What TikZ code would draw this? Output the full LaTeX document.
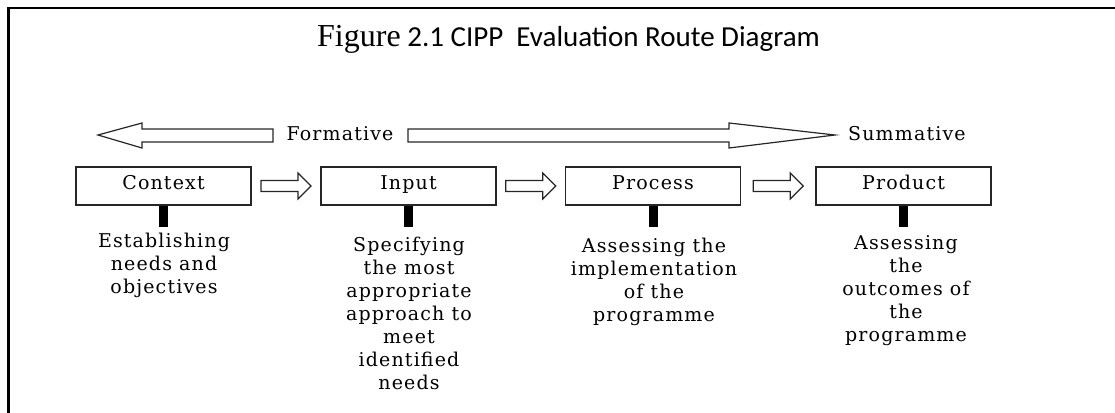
\documentclass[tikz,border=0pt]{standalone}
\usepackage{fontspec}
\setmainfont{Carlito}
\newfontfamily\figfont{Liberation Serif}
\newfontfamily\diagfont[LetterSpace=6]{DejaVu Serif}
\usepackage{tikz}
\usetikzlibrary{calc}

\tikzset{
    stage/.style={draw=black!85, line width=1.2pt, minimum width=175pt, minimum height=38pt,
        inner sep=0pt, text height=12pt, text depth=6pt, font=\diagfont\fontsize{19}{23}\selectfont},
    desc/.style={anchor=north, align=center, inner sep=0pt, font=\diagfont\fontsize{19}{23}\selectfont},
    stem/.style={line width=9pt, black},
    flowarrow/.pic={
        \draw[black!85, line width=1.2pt] (-25,-5.5) -- (12,-5.5) -- (12,-13) -- (25,0)
            -- (12,13) -- (12,5.5) -- (-25,5.5) -- cycle;
    }
}

\begin{document}
\begin{tikzpicture}[x=1pt, y=-1pt]
        \useasboundingbox (0,0) rectangle (1115,412);

        % frame
        \draw[line width=2.5pt] (8.7,430) -- (8.7,8) -- (1125,8);

        \node[anchor=base west, inner sep=0pt, font=\fontsize{29}{33}\selectfont] (title) at (317,47)
            {{\figfont\fontsize{32}{33}\selectfont Figure} 2.1 CIPP\ \ Evaluation Route Diagram};

        % formative / summative
        \draw[black!85, line width=1.2pt] (98,135) -- (142,123) -- (142,129) -- (273,129)
            -- (273,142) -- (142,142) -- (142,148) -- cycle;
        \draw[black!85, line width=1.2pt] (408,129) -- (729,129) -- (729,123) -- (835,135)
            -- (729,148) -- (729,142) -- (408,142) -- cycle;
        \node[font=\diagfont\fontsize{19}{23}\selectfont] (form) at (340,134) {Formative};
        \node[anchor=west, inner sep=0pt, font=\diagfont\fontsize{19}{23}\selectfont] (summ) at (848,134) {Summative};

        \node[stage] (ctx) at (163.5,186) {Context};
        \node[stage] (inp) at (408.5,186) {Input};
        \node[stage] (proc) at (653,186) {Process};
        \node[stage] (prod) at (903.5,186) {Product};

        \pic at ($(ctx.east)!.5!(inp.west)$) {flowarrow};
        \pic at ($(inp.east)!.5!(proc.west)$) {flowarrow};
        \pic at ($(proc.east)!.5!(prod.west)$) {flowarrow};

        \draw[stem] (ctx.south) -- ++(0,21);
        \draw[stem] (inp.south) -- ++(0,21);
        \draw[stem] (proc.south) -- ++(0,21);
        \draw[stem] (prod.south) -- ++(0,21);

        \node[desc] (ctxd) at (164,233) {Establishing\\needs and\\objectives};
        \node[desc] (inpd) at (409,237) {Specifying\\the most\\appropriate\\approach to\\meet\\identified\\needs};
        \node[desc] (procd) at (654,238) {Assessing the\\implementation\\of the\\programme};
        \node[desc] (prodd) at (906,235) {Assessing\\the\\outcomes of\\the\\programme};
    \end{tikzpicture}
\end{document}
